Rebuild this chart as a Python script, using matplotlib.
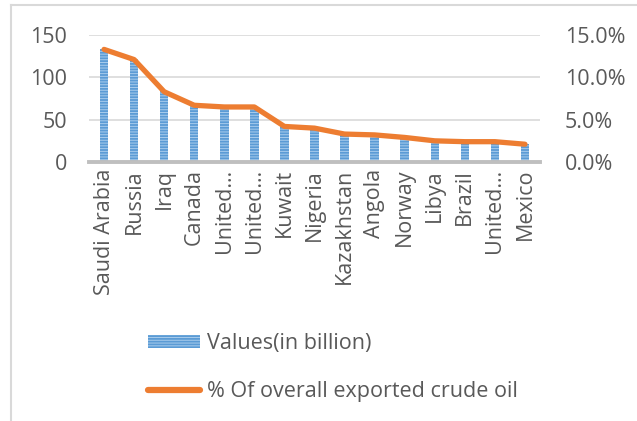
import matplotlib
matplotlib.use("Agg")
import matplotlib.pyplot as plt
from matplotlib.lines import Line2D
from matplotlib.patches import Patch
import numpy as np

plt.rcParams['font.family'] = ['Open Sans', 'DejaVu Sans']
plt.rcParams['hatch.linewidth'] = 0.7

categories = ["Saudi Arabia", "Russia", "Iraq", "Canada", "United…", "United…",
              "Kuwait", "Nigeria", "Kazakhstan", "Angola", "Norway", "Libya",
              "Brazil", "United…", "Mexico"]
values_billion = [133.5, 121.5, 83.5, 67.0, 64.5, 64.5, 42.5, 40.5, 33.0, 31.5,
                  29.0, 25.5, 24.0, 24.0, 21.5]
pct_exported = [13.3, 12.1, 8.3, 6.7, 6.5, 6.5, 4.2, 4.0, 3.3, 3.2,
                2.9, 2.5, 2.4, 2.4, 2.1]
left_ticks = [0, 50, 100, 150]
right_ticks = [0, 5, 10, 15]

W, H = 637, 421
fig = plt.figure(figsize=(W / 100, H / 100), dpi=100)
ax = fig.add_axes([89 / W, 1 - 162 / H, (540 - 89) / W, (162 - 35) / H])
ax2 = ax.twinx()

txt = '#595959'
x = np.arange(len(categories))
ax.bar(x, values_billion, width=0.28, color='#5B9BD5', edgecolor='#A8CCEC',
       linewidth=0, hatch='------', zorder=2)
ax2.plot(x, pct_exported, color='#ED7D31', lw=3.8, solid_joinstyle='round',
         solid_capstyle='round', zorder=3)

ax.set_xlim(-0.5, len(categories) - 0.5)
ax.set_ylim(0, 150)
ax2.set_ylim(0, 15)
ax.set_yticks(left_ticks)
ax.set_yticklabels([str(t) for t in left_ticks])
ax2.set_yticks(right_ticks)
ax2.set_yticklabels([f"{t:.1f}%" for t in right_ticks])
ax.set_xticks(x)
ax.set_xticklabels(categories, rotation=90, va='top', ha='center')

ax.grid(axis='y', color='#D9D9D9', lw=1.2, zorder=0)
ax.set_axisbelow(True)
for a in (ax, ax2):
    for s in ('left', 'right', 'top'):
        a.spines[s].set_visible(False)
    a.spines['bottom'].set_visible(False)
    a.tick_params(length=0, colors=txt, labelsize=15.5)
ax.axhline(0, color='#BFBFBF', lw=2.8, zorder=4, clip_on=False)
ax.tick_params(axis='y', pad=16)
ax2.tick_params(axis='y', pad=18)
ax.tick_params(axis='x', pad=5, labelsize=15.5)

handles = [Patch(facecolor='#5B9BD5', edgecolor='#A8CCEC', linewidth=0, hatch='------'),
           Line2D([0], [0], color='#ED7D31', lw=4.5, solid_capstyle='round')]
leg = fig.legend(handles, ["Values(in billion)", "% Of overall exported crude oil"],
                 loc='upper left', bbox_to_anchor=(148 / W, 1 - 333 / H),
                 frameon=False, fontsize=15.5, handlelength=2.4, handleheight=0.6,
                 handletextpad=0.35, labelspacing=1.25, borderaxespad=0, borderpad=0)
for t in leg.get_texts():
    t.set_color(txt)

# chart border (left and top visible)
fig.add_artist(Line2D([11 / W, 11 / W], [0, 1 - 5 / H], color='#D9D9D9', lw=1.5,
                      transform=fig.transFigure))
fig.add_artist(Line2D([11 / W, 1], [1 - 5 / H, 1 - 5 / H], color='#D9D9D9', lw=1.5,
                      transform=fig.transFigure))

fig.savefig('out.png', dpi=100)
